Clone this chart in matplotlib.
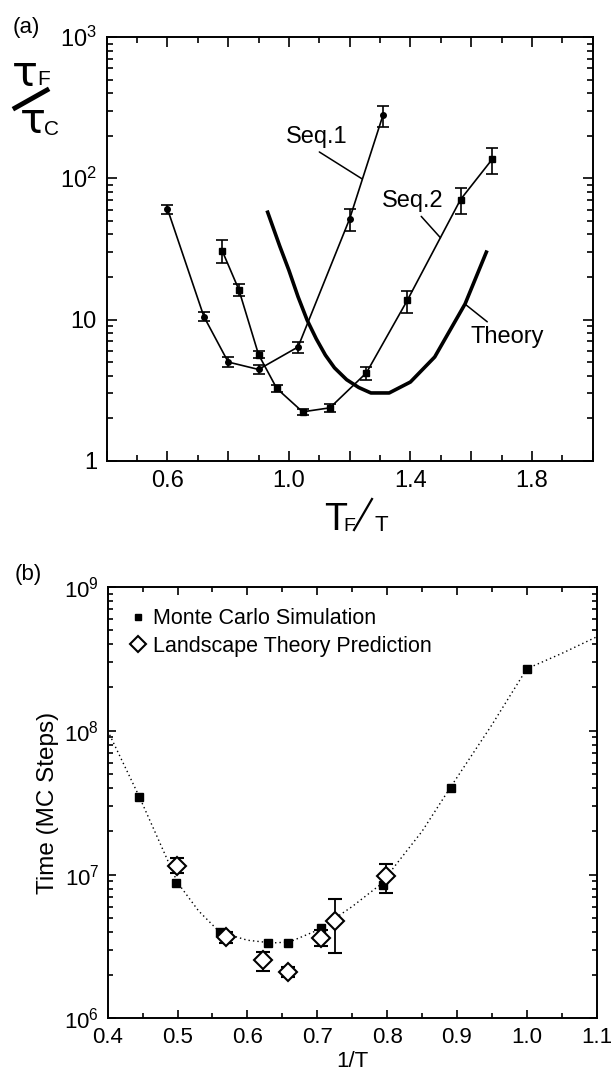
import numpy as np
import matplotlib
matplotlib.use("Agg")
import matplotlib.pyplot as plt
from matplotlib.lines import Line2D
from matplotlib.ticker import MultipleLocator, LogLocator, NullFormatter

plt.rcParams['font.family'] = ['Liberation Sans', 'DejaVu Sans']
plt.rcParams['mathtext.fontset'] = 'custom'
plt.rcParams['mathtext.rm'] = 'Liberation Sans'
plt.rcParams['mathtext.it'] = 'Liberation Sans:italic'
plt.rcParams['mathtext.bf'] = 'Liberation Sans:bold'

# (a) folding time ratio vs T_F/T
seq1_x = [0.60, 0.72, 0.80, 0.90, 1.03, 1.20, 1.31]
seq1_y = [60.8, 10.5, 5.0, 4.43, 6.39, 51.7, 281]
seq1_lo = [56.2, 9.8, 4.61, 4.09, 5.8, 42.5, 229]
seq1_hi = [65.2, 11.3, 5.43, 4.79, 6.93, 60.7, 325]

seq2_x = [0.78, 0.835, 0.90, 0.96, 1.045, 1.135, 1.255, 1.39, 1.565, 1.67]
seq2_y = [30.8, 16.3, 5.65, 3.25, 2.22, 2.37, 4.19, 13.7, 70.7, 137]
seq2_lo = [25.1, 14.6, 5.3, 3.07, 2.10, 2.20, 3.7, 11.2, 55.7, 107]
seq2_hi = [36.6, 17.9, 5.95, 3.42, 2.32, 2.52, 4.6, 15.9, 84.8, 165]

theory_x = [0.93, 0.97, 1.00, 1.03, 1.06, 1.09, 1.12, 1.15, 1.19, 1.23, 1.27,
            1.33, 1.40, 1.48, 1.58, 1.65]
theory_y = [57.5, 33.0, 22.3, 14.5, 9.9, 7.3, 5.6, 4.55, 3.75, 3.3, 3.02,
            3.02, 3.61, 5.43, 12.9, 30.0]

# (b) Monte Carlo vs landscape theory
mc_x = [0.445, 0.498, 0.5605, 0.63, 0.658, 0.705, 0.794, 0.891, 1.0]
mc_y = [3.49e7, 8.8e6, 4.01e6, 3.33e6, 3.37e6, 4.24e6, 8.48e6, 4.03e7, 2.7e8]

lt_x = [0.499, 0.570, 0.622, 0.658, 0.705, 0.726, 0.799]
lt_y = [1.155e7, 3.67e6, 2.55e6, 2.12e6, 3.61e6, 4.79e6, 9.8e6]
lt_lo = [1.03e7, 3.33e6, 2.15e6, 1.95e6, 3.19e6, 2.87e6, 7.5e6]
lt_hi = [1.3e7, 4.0e6, 2.91e6, 2.27e6, 4.12e6, 6.72e6, 1.19e7]

fit_x = [0.40, 0.445, 0.50, 0.53, 0.56, 0.60, 0.635, 0.66, 0.70, 0.75, 0.79,
         0.85, 0.89, 0.95, 1.00, 1.05, 1.10]
fit_y = [1.0e8, 3.5e7, 8.8e6, 5.6e6, 4.0e6, 3.5e6, 3.35e6, 3.4e6, 4.1e6, 6.0e6,
         8.5e6, 2.0e7, 4.0e7, 1.1e8, 2.7e8, 3.45e8, 4.5e8]


def yerr(y, lo, hi):
    y = np.array(y)
    return [y - np.array(lo), np.array(hi) - y]


def fx(px):
    return px / 612


def fy(py):
    return 1 - py / 1074


fig = plt.figure(figsize=(6.12, 10.74), dpi=100)

# ---------------- panel (a) ----------------
ax1 = fig.add_axes([0.1743, 0.5710, 0.7941, 0.3945])
ax1.set_yscale('log')
ax1.errorbar(seq1_x, seq1_y, yerr=yerr(seq1_y, seq1_lo, seq1_hi), fmt='-o',
             color='k', ms=4, lw=1.2, elinewidth=1.2, capsize=4, capthick=1.2)
ax1.errorbar(seq2_x, seq2_y, yerr=yerr(seq2_y, seq2_lo, seq2_hi), fmt='-s',
             color='k', ms=4, lw=1.2, elinewidth=1.2, capsize=4, capthick=1.2)
ax1.plot(theory_x, theory_y, color='k', lw=2.6)

ax1.set_xlim(0.4, 2.0)
ax1.set_ylim(1, 1000)
ax1.set_xticks([0.4, 0.6, 0.8, 1.0, 1.2, 1.4, 1.6, 1.8, 2.0],
               labels=['', '0.6', '', '1.0', '', '1.4', '', '1.8', ''])
ax1.xaxis.set_minor_locator(MultipleLocator(0.1))
ax1.set_yticks([1, 10, 100, 1000], labels=['1', '10', r'10$^{2}$', r'10$^{3}$'])
ax1.yaxis.set_minor_locator(LogLocator(base=10, subs=np.arange(2, 10)))
ax1.yaxis.set_minor_formatter(NullFormatter())
ax1.tick_params(which='both', direction='in', top=True, right=True, width=1.2)
ax1.tick_params(which='major', length=7, labelsize=17, pad=7)
ax1.tick_params(which='minor', length=4)
for s in ax1.spines.values():
    s.set_linewidth(1.4)

ax1.annotate('Seq.1', xy=(1.241, 99), xytext=(1.092, 197), ha='center', va='center',
             fontsize=17, arrowprops=dict(arrowstyle='-', lw=1.1, relpos=(0.43, 0),
                                          shrinkA=2, shrinkB=0))
ax1.annotate('Seq.2', xy=(1.499, 37.9), xytext=(1.407, 69.6), ha='center', va='center',
             fontsize=17, arrowprops=dict(arrowstyle='-', lw=1.1, relpos=(0.57, 0),
                                          shrinkA=2, shrinkB=0))
ax1.annotate('Theory', xy=(1.579, 12.9), xytext=(1.72, 7.48), ha='center', va='center',
             fontsize=17, arrowprops=dict(arrowstyle='-', lw=1.1, relpos=(0.3, 1),
                                          shrinkA=2, shrinkB=0))

# y label tau_F / tau_C
fig.text(fx(12), fy(86), 'τ', fontsize=31, va='baseline', ha='left',
         family='DejaVu Sans')
fig.text(fx(37), fy(85), 'F', fontsize=15, va='baseline', ha='left')
fig.add_artist(Line2D([fx(15), fx(47)], [fy(108), fy(90)],
                      color='k', lw=3.5, transform=fig.transFigure))
fig.text(fx(20), fy(133), 'τ', fontsize=31, va='baseline', ha='left',
         family='DejaVu Sans')
fig.text(fx(44), fy(135), 'C', fontsize=15, va='baseline', ha='left')

# x label T_F / T
fig.text(fx(324), fy(530), 'T', fontsize=27, va='baseline', ha='left')
fig.text(fx(343), fy(531), 'F', fontsize=14, va='baseline', ha='left')
fig.add_artist(Line2D([fx(354), fx(372)], [fy(530), fy(499)],
                      color='k', lw=1.6, transform=fig.transFigure))
fig.text(fx(374), fy(531), 'T', fontsize=16, va='baseline', ha='left')

fig.text(fx(13), fy(33), '(a)', fontsize=16, va='baseline', ha='left')

# ---------------- panel (b) ----------------
ax2 = fig.add_axes([0.176, 0.0517, 0.799, 0.4018])
ax2.set_yscale('log')
ax2.plot(fit_x, fit_y, color='k', lw=1.0, ls=(0, (1, 2.2)))
ax2.plot(mc_x, mc_y, 's', color='k', ms=6, zorder=3)
ax2.errorbar(lt_x, lt_y, yerr=yerr(lt_y, lt_lo, lt_hi), fmt='D', mfc='white',
             mec='k', mew=1.5, ms=9, ecolor='k', elinewidth=1.3, capsize=5,
             capthick=1.3, zorder=4)

ax2.set_xlim(0.4, 1.1)
ax2.set_ylim(1e6, 1e9)
ax2.set_xticks([0.4, 0.5, 0.6, 0.7, 0.8, 0.9, 1.0, 1.1],
               labels=['0.4', '0.5', '0.6', '0.7', '0.8', '0.9', '1.0', '1.1'])
ax2.xaxis.set_minor_locator(MultipleLocator(0.05))
ax2.set_yticks([1e6, 1e7, 1e8, 1e9],
               labels=[r'10$^{6}$', r'10$^{7}$', r'10$^{8}$', r'10$^{9}$'])
ax2.yaxis.set_minor_locator(LogLocator(base=10, subs=np.arange(2, 10)))
ax2.yaxis.set_minor_formatter(NullFormatter())
ax2.tick_params(which='both', direction='in', top=True, right=True, width=1.2)
ax2.tick_params(which='major', length=6, labelsize=16, pad=6)
ax2.tick_params(which='minor', length=3.5)
for s in ax2.spines.values():
    s.set_linewidth(1.4)
ax2.set_xlabel('1/T', fontsize=16, labelpad=2)
ax2.set_ylabel('Time (MC Steps)', fontsize=17.5, labelpad=4)

handles = [Line2D([], [], marker='s', ls='none', color='k', ms=5),
           Line2D([], [], marker='D', ls='none', mfc='white', mec='k', mew=1.5, ms=8)]
ax2.legend(handles, ['Monte Carlo Simulation', 'Landscape Theory Prediction'],
           loc='upper left', frameon=False, fontsize=15.5, handlelength=0.8,
           handletextpad=0.3, borderaxespad=0.6, labelspacing=0.3)

fig.text(fx(15), fy(580), '(b)', fontsize=16, va='baseline', ha='left')

fig.savefig('out.png', dpi=100)
